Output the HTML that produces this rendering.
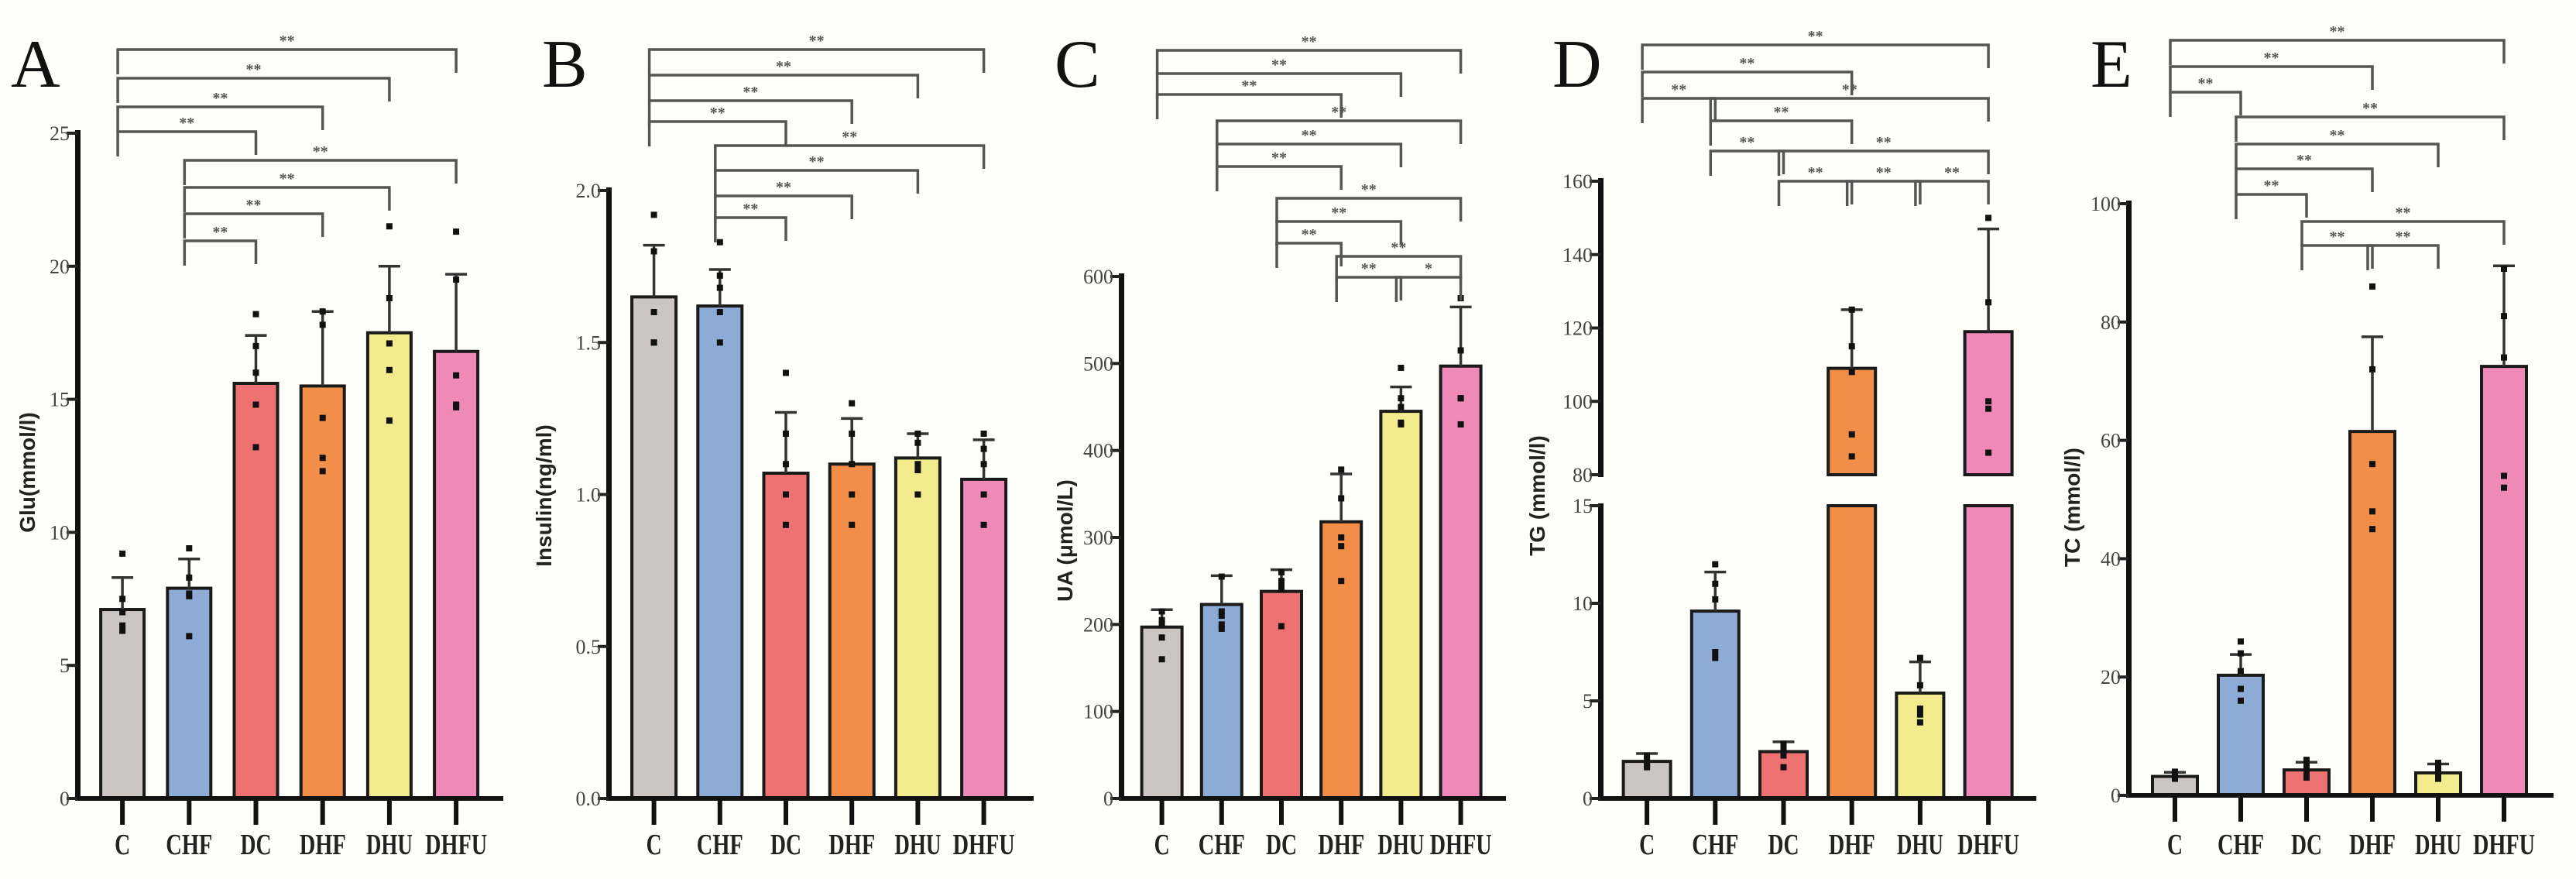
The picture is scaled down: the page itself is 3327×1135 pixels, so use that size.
<!DOCTYPE html>
<html><head><meta charset="utf-8">
<style>
html,body{margin:0;padding:0;background:#fefefb;}
svg{display:block;}
text{font-family:"Liberation Serif",serif;}
</style></head>
<body>
<svg id="fig" width="3327" height="1135" viewBox="0 0 3327 1135" xmlns="http://www.w3.org/2000/svg">
<rect width="3327" height="1135" fill="#fefefb"/>
</svg>
<script>
const categories = ["C","CHF","DC","DHF","DHU","DHFU"];
const colors = ["#cbc5c3","#8eabd6","#ee7272","#f28e48","#f3ec8e","#ee89b8"];

const gluMeans = [7.1, 7.9, 15.6, 15.5, 17.5, 16.8];
const gluSD = [1.2, 1.1, 1.8, 2.8, 2.5, 2.9];
const gluPoints = [[9.2,7.5,6.5,6.3,7.0],[9.4,8.3,7.7,7.6,6.1],[18.2,17.0,16.0,14.8,13.2],[18.3,17.8,14.3,12.8,12.3],[21.5,18.8,17.1,16.1,14.2],[21.3,19.5,15.9,14.7,14.8]];
const gluTicks = [0,5,10,15,20,25];

const insMeans = [1.65, 1.62, 1.07, 1.10, 1.12, 1.05];
const insSD = [0.17, 0.12, 0.20, 0.15, 0.08, 0.13];
const insPoints = [[1.92,1.80,1.60,1.50,1.50],[1.83,1.72,1.68,1.60,1.50],[1.40,1.20,1.10,1.00,0.90],[1.30,1.20,1.10,1.00,0.90],[1.20,1.17,1.10,1.08,1.00],[1.20,1.15,1.10,1.00,0.90]];
const insTicks = [0.0,0.5,1.0,1.5,2.0];
const insTickLabels = ["0.0","0.5","1.0","1.5","2.0"];

const uaMeans = [197, 223, 238, 318, 445, 497];
const uaSD = [20, 33, 25, 55, 28, 68];
const uaPoints = [[215,205,185,160,200],[255,210,200,195,215],[260,250,245,240,198],[378,345,300,290,250],[495,460,450,432,430],[575,515,460,430,460]];
const uaTicks = [0,100,200,300,400,500,600];

const tgMeans = [1.9, 9.6, 2.4, 109, 5.4, 119];
const tgSD = [0.4, 2.0, 0.5, 16, 1.6, 28];
const tgPoints = [[2.2,1.8,1.6,1.7,2.0],[12,11,10.2,7.5,7.2],[2.8,2.5,2.2,1.6,2.6],[125,115,108,91,85],[7.2,5.8,4.6,4.3,3.9],[150,127,100,98,86]];
const tgTicksLow = [0,5,10,15];
const tgTicksHigh = [80,100,120,140,160];

const tcMeans = [3.2, 20.3, 4.3, 61.5, 3.8, 72.5];
const tcSD = [0.7, 3.5, 1.3, 16, 1.5, 17];
const tcPoints = [[4,3.5,3,3.2,2.8],[26,24,21,18,16],[6,5,4.5,3.5,3],[86,72,56,48,45],[5.5,4.5,3.8,3.5,2.8],[89,81,74,54,52]];
const tcTicks = [0,20,40,60,80,100];

// significance brackets: [groupA, groupB, row y, label]
const gluSig = [[0,5,64,"**"],[0,4,101,"**"],[0,3,138,"**"],[0,2,170,"**"],[1,5,207,"**"],[1,4,242,"**"],[1,3,276,"**"],[1,2,311,"**"]];
const insSig = [[0,5,64,"**"],[0,4,97,"**"],[0,3,130,"**"],[0,2,157,"**"],[1,5,188,"**"],[1,4,220,"**"],[1,3,253,"**"],[1,2,281,"**"]];
const uaSig = [[0,5,65,"**"],[0,4,95,"**"],[0,3,122,"**"],[1,5,156,"**"],[1,4,186,"**"],[1,3,215,"**"],[2,5,256,"**"],[2,4,286,"**"],[2,3,314,"**"],[3,5,331,"**"],[3,4,358,"**"],[4,5,358,"*"]];
const tgSig = [[0,5,58,"**"],[0,3,93,"**"],[0,1,127,"**"],[1,5,127,"**"],[1,3,156,"**"],[1,2,195,"**"],[2,5,195,"**"],[2,3,234,"**"],[3,4,234,"**"],[4,5,234,"**"]];
const tcSig = [[0,5,52,"**"],[0,3,86,"**"],[0,1,119,"**"],[1,5,151,"**"],[1,4,186,"**"],[1,3,218,"**"],[1,2,251,"**"],[2,5,286,"**"],[2,3,317,"**"],[3,4,317,"**"]];

const NS = "http://www.w3.org/2000/svg";
const svg = document.getElementById("fig");
function mk(tag, attrs, parent){
  const e = document.createElementNS(NS, tag);
  for (const k in attrs) e.setAttribute(k, attrs[k]);
  (parent||svg).appendChild(e);
  return e;
}

function linScale(v0, v1, p0, p1){ return v => p0 + (v - v0) * (p1 - p0) / (v1 - v0); }

function drawPanel(P){
  const g = mk("g", {});
  
  
  const step = P.step;
  const cx = i => P.xStart + (i + 0.5) * step;
  // letter
  const L = mk("text", {x:P.letterX, y:112, "font-size":88, fill:"#111"}, g);
  L.textContent = P.letter;
  
  
  // y label
  const yl = mk("text", {x:P.ylabX, y:P.ylabY, "font-size":28, "font-weight":"bold", fill:"#222", "text-anchor":"middle",
    transform:`rotate(-90 ${P.ylabX} ${P.ylabY})`, style:'font-family:"Liberation Sans",sans-serif'}, g);
  yl.textContent = P.ylabel;
  
  
  // bars
  P.means.forEach((m, i) => {
    const x = cx(i) - P.bw/2;
    const segs = P.segments(m);
    segs.forEach(s => {
      const r = mk("rect", {x:x, y:s[0], width:P.bw, height:s[1]-s[0], fill:colors[i], stroke:"#1a1a1a", "stroke-width":4}, g);
      
      
    });
    // error bar
    const yt = P.y(m), ye = P.y(m + P.sd[i]);
    const eb = mk("path", {d:`M${cx(i)} ${yt} V${ye} M${cx(i)-14} ${ye} H${cx(i)+14}`, stroke:"#333", "stroke-width":3.5, fill:"none"}, g);
    
    
    P.points[i].forEach(v => {
      const pt = mk("rect", {x:cx(i)-4, y:P.y(v)-4, width:8, height:8, fill:"#111"}, g);
      
      
    });
    // x tick + label
    const tk = mk("rect", {x:cx(i)-3, y:P.y0, width:6, height:34, fill:"#111"}, g);
    
    
    const xl = mk("text", {x:cx(i), y:1103, "font-size":38, "font-weight":"bold", fill:"#222", "text-anchor":"middle", textLength: categories[i].length*20, lengthAdjust:"spacingAndGlyphs"}, g);
    xl.textContent = categories[i];
    
    
  });
  // axes
  P.axisSegs.forEach(s => {
    const a = mk("rect", {x:P.ax-3, y:s[0], width:7, height:s[1]-s[0], fill:"#111"}, g);
    
    
  });
  const xa = mk("rect", {x:P.ax-3, y:P.y0-3, width:P.xEnd-P.ax+3, height:6, fill:"#111"}, g);
  
  
  P.ticks.forEach((t, k) => {
    const y = P.y(t);
    mk("rect", {x:P.ax-14, y:y-2, width:14, height:4, fill:"#222"}, g);
    const tl = mk("text", {x:P.ax-10, y:y+9, "font-size":26, fill:"#444", "text-anchor":"end"}, g);
    tl.textContent = P.tickLabels ? P.tickLabels[k] : String(t);
    
    
  });
  // brackets
  P.sig.forEach(b => {
    const x1 = cx(b[0]) - 6, x2 = cx(b[1]);
    const y = b[2];
    const br = mk("path", {d:`M${x1} ${y+32} V${y} H${x2} V${y+30}`, stroke:"#555", "stroke-width":3.5, fill:"none"}, g);
    
    
    const st = mk("text", {x:(x1+x2)/2, y:y-5, "font-size":20, "font-weight":"bold", fill:"#555", "text-anchor":"middle"}, g);
    st.textContent = b[3];
    
    
  });
}

function simple(letter, letterX, ax, y0, ytop, vmax, xStart, step, bw, xEnd, means, sd, points, ticks, sig, ylabel, ylabX, ylabY, tickLabels){
  const y = linScale(0, vmax, y0, ytop);
  return {letter, letterX, ax, y0, xStart, step, bw, xEnd, means, sd, points, ticks, sig, ylabel, ylabX, ylabY, tickLabels, y,
    segments: m => [[y(m), y0]], axisSegs: [[ytop-4, y0+3]]};
}

drawPanel(simple("A", 14, 100, 1031, 172, 25, 115, 86.2, 56, 650, gluMeans, gluSD, gluPoints, gluTicks, gluSig, "Glu(mmol/l)", 45, 610));
drawPanel(simple("B", 700, 786, 1031, 246, 2.0, 802, 85.2, 57, 1335, insMeans, insSD, insPoints, insTicks, insSig, "Insulin(ng/ml)", 712, 640, insTickLabels));
drawPanel(simple("C", 1362, 1448, 1031, 357, 600, 1462, 77.2, 52, 1945, uaMeans, uaSD, uaPoints, uaTicks, uaSig, "UA (μmol/L)", 1385, 698));

// Panel D: broken axis
(function(){
  const y0 = 1031, y15 = 653, y80 = 613, y160 = 234;
  const low = linScale(0, 15, y0, y15), high = linScale(80, 160, y80, y160);
  const y = v => v <= 15 ? low(v) : (v >= 80 ? high(v) : y15);
  drawPanel({letter:"D", letterX:2005, ax:2067, y0, xStart:2083, step:88.2, bw:61, xEnd:2630,
    means:tgMeans, sd:tgSD, points:tgPoints, ticks:tgTicksLow.concat(tgTicksHigh), sig:tgSig,
    ylabel:"TG (mmol/l)", ylabX:1995, ylabY:640, y,
    segments: m => m <= 15 ? [[low(m), y0]] : [[y15, y0], [high(Math.max(m,80)), y80]],
    axisSegs: [[y15-3, y0+3], [y160-4, y80+3]]});
})();

drawPanel(simple("E", 2700, 2749, 1027, 263, 100, 2766.5, 85, 58, 3298, tcMeans, tcSD, tcPoints, tcTicks, tcSig, "TC (mmol/l)", 2686, 655));
</script>
</body></html>
